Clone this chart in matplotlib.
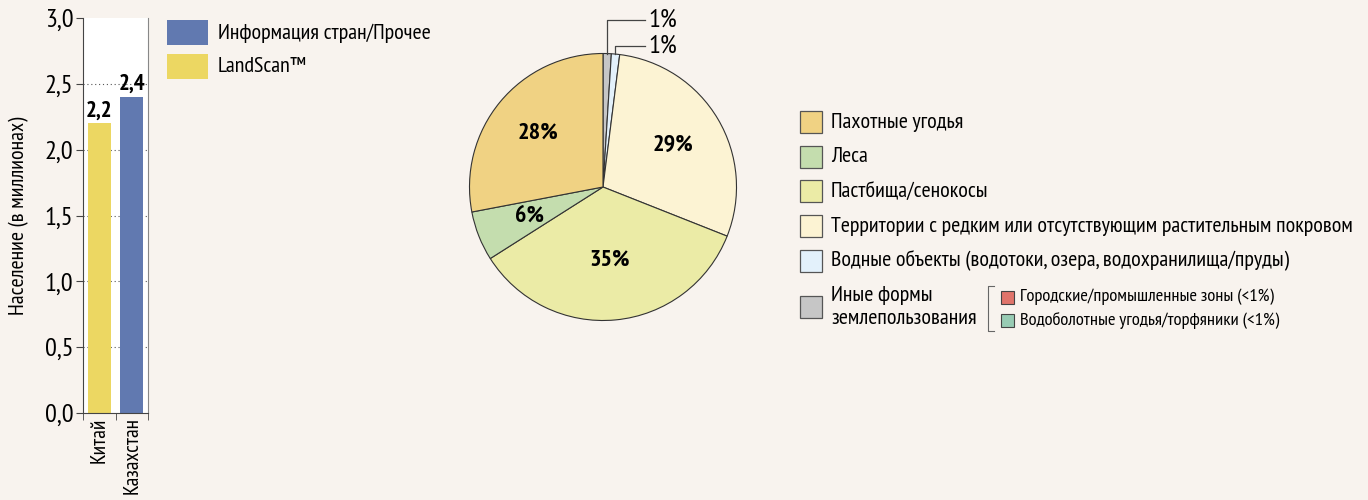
import matplotlib
matplotlib.use("Agg")
import matplotlib.pyplot as plt
from matplotlib.patches import Rectangle
from matplotlib.lines import Line2D
import numpy as np

# ---------------------------------------------------------------------------
# Donnees
# ---------------------------------------------------------------------------
pays = ["Китай", "Казахстан"]
population = [2.2, 2.4]
source_bar = ["LandScan™", "Информация стран/Прочее"]
etiquettes_bar = ["2,2", "2,4"]
yticks = [0.0, 0.5, 1.0, 1.5, 2.0, 2.5, 3.0]
ytick_labels = ["0,0", "0,5", "1,0", "1,5", "2,0", "2,5", "3,0"]

legende_sources = ["Информация стран/Прочее", "LandScan™"]

# ordre horaire a partir du haut
parts = [1, 1, 29, 35, 6, 28]
noms_parts = ["Иные формы\nземлепользования",
              "Водные объекты (водотоки, озера, водохранилища/пруды)",
              "Территории с редким или отсутствующим растительным покровом",
              "Пастбища/сенокосы", "Леса", "Пахотные угодья"]
etiquettes_parts = ["1%", "1%", "29%", "35%", "6%", "28%"]

legende_ordre = ["Пахотные угодья", "Леса", "Пастбища/сенокосы",
                 "Территории с редким или отсутствующим растительным покровом",
                 "Водные объекты (водотоки, озера, водохранилища/пруды)",
                 "Иные формы\nземлепользования"]
sous_legende = ["Городские/промышленные зоны (<1%)",
                "Водоболотные угодья/торфяники (<1%)"]

# ---------------------------------------------------------------------------
# Style
# ---------------------------------------------------------------------------
FOND = "#f8f3ee"
C_JAUNE = "#ecd762"
C_BLEU = "#6179b0"
COULEURS_SOURCE = {"LandScan™": C_JAUNE, "Информация стран/Прочее": C_BLEU}
COULEURS_PARTS = {
    "Пахотные угодья": "#f0d283",
    "Леса": "#c4ddae",
    "Пастбища/сенокосы": "#ebeba6",
    "Территории с редким или отсутствующим растительным покровом": "#fcf3d3",
    "Водные объекты (водотоки, озера, водохранилища/пруды)": "#e3f1fb",
    "Иные формы\nземлепользования": "#c6c6c6",
}
COULEURS_SOUS = ["#e0746b", "#98ccb4"]
BORD = "#333333"

plt.rcParams["font.family"] = ["PT Sans Narrow", "Fira Sans Condensed",
                               "Roboto Condensed", "DejaVu Sans"]

W, H = 1368, 500
fig = plt.figure(figsize=(W / 100, H / 100), dpi=100, facecolor=FOND)


def fx(x):
    return x / W


def fy(y):
    return 1 - y / H


# ---------------------------------------------------------------------------
# Histogramme
# ---------------------------------------------------------------------------
ax = fig.add_axes([fx(83), fy(413), 65 / W, 395 / H])
ax.set_facecolor("white")
xs = np.arange(len(pays))
cols = [COULEURS_SOURCE[s] for s in source_bar]
ax.bar(xs, population, width=0.71, color=cols, zorder=2)
for x, v, t in zip(xs, population, etiquettes_bar):
    ax.text(x, v + 0.015, t, ha="center", va="bottom", fontsize=16.5,
            fontweight="bold", zorder=3)
ax.set_xlim(-0.5, 1.5)
ax.set_ylim(0, 3.0)
ax.set_yticks(yticks)
ax.set_yticklabels(ytick_labels, fontsize=19)
for yv in yticks[1:-1]:
    ax.axhline(yv, color="#555555", linestyle=(0, (1, 2.5)), linewidth=0.8,
               zorder=1)
ax.set_xticks(xs)
ax.set_xticklabels(pays, rotation=90, fontsize=15.5)
ax.tick_params(axis="x", length=0, pad=3)
ax.set_xticks([-0.5, 0.5, 1.5], minor=True)
ax.tick_params(axis="x", which="minor", length=5, color="#444444")
ax.tick_params(axis="y", length=5, color="#444444", pad=2)
ax.spines["top"].set_visible(False)
for s in ["left", "bottom"]:
    ax.spines[s].set_color("#444444")
ax.spines["right"].set_color("#888888")
ax.set_ylabel("Население (в миллионах)", fontsize=15.8, labelpad=11)

# legende des sources
for i, lab in enumerate(legende_sources):
    y0 = 20 + i * 34
    fig.patches.append(Rectangle((fx(167), fy(y0 + 25)), 41 / W, 25 / H,
                                 transform=fig.transFigure,
                                 facecolor=COULEURS_SOURCE[lab],
                                 edgecolor="none"))
    fig.text(fx(218), fy(y0 + 13), lab, fontsize=15.8, va="center", ha="left")

# ---------------------------------------------------------------------------
# Camembert
# ---------------------------------------------------------------------------
R = 133.5
cx, cy = 603, 187
axp = fig.add_axes([fx(cx - R), fy(cy + R), 2 * R / W, 2 * R / H])
axp.set_facecolor("none")
couleurs = [COULEURS_PARTS[n] for n in noms_parts]
wedges, _ = axp.pie(parts, colors=couleurs, startangle=90, counterclock=False,
                    radius=1.0,
                    wedgeprops=dict(edgecolor=BORD, linewidth=0.8))
axp.set_xlim(-1, 1)
axp.set_ylim(-1, 1)
axp.set_aspect("auto")
axp.axis("off")

dist_lab = {"29%": 0.61, "35%": 0.55, "6%": 0.59, "28%": 0.63}
y_ext = [(cy - 20) / R, (cy - 46) / R]
k = 0
for w, t in zip(wedges, etiquettes_parts):
    ang = np.deg2rad((w.theta1 + w.theta2) / 2)
    if t == "1%":
        x0 = np.cos(ang) * 0.98
        y0 = np.sin(ang)
        axp.add_line(Line2D([x0, x0, 42 / R], [y0, y_ext[k], y_ext[k]],
                            color="#444444", linewidth=0.9, clip_on=False))
        axp.text(45 / R, y_ext[k], t, fontsize=19, va="center", ha="left")
        k += 1
    else:
        d = dist_lab[t]
        axp.text(d * np.cos(ang), d * np.sin(ang), t, fontsize=17.5,
                 fontweight="bold", ha="center", va="center")

# legende du camembert
rangees = [122, 157, 191, 226, 261, 307]
for lab, yc in zip(legende_ordre, rangees):
    fig.patches.append(Rectangle((fx(800), fy(yc + 11)), 22 / W, 22 / H,
                                 transform=fig.transFigure,
                                 facecolor=COULEURS_PARTS[lab],
                                 edgecolor="#555555", linewidth=0.9))
    fig.text(fx(831), fy(yc), lab, fontsize=15.8, va="center", ha="left",
             linespacing=1.3)

# crochet + sous-legende
fig.lines.append(Line2D([fx(994), fx(988), fx(988), fx(994)],
                        [fy(286), fy(286), fy(331), fy(331)],
                        transform=fig.transFigure, color="#666666",
                        linewidth=0.8))
for i, (lab, c) in enumerate(zip(sous_legende, COULEURS_SOUS)):
    yc = 297 + i * 23
    fig.patches.append(Rectangle((fx(1001), fy(yc + 7)), 13 / W, 13 / H,
                                 transform=fig.transFigure, facecolor=c,
                                 edgecolor="#444444", linewidth=0.8))
    fig.text(fx(1020), fy(yc), lab, fontsize=13.3, va="center", ha="left")

fig.savefig("out.png", dpi=100, facecolor=FOND)
